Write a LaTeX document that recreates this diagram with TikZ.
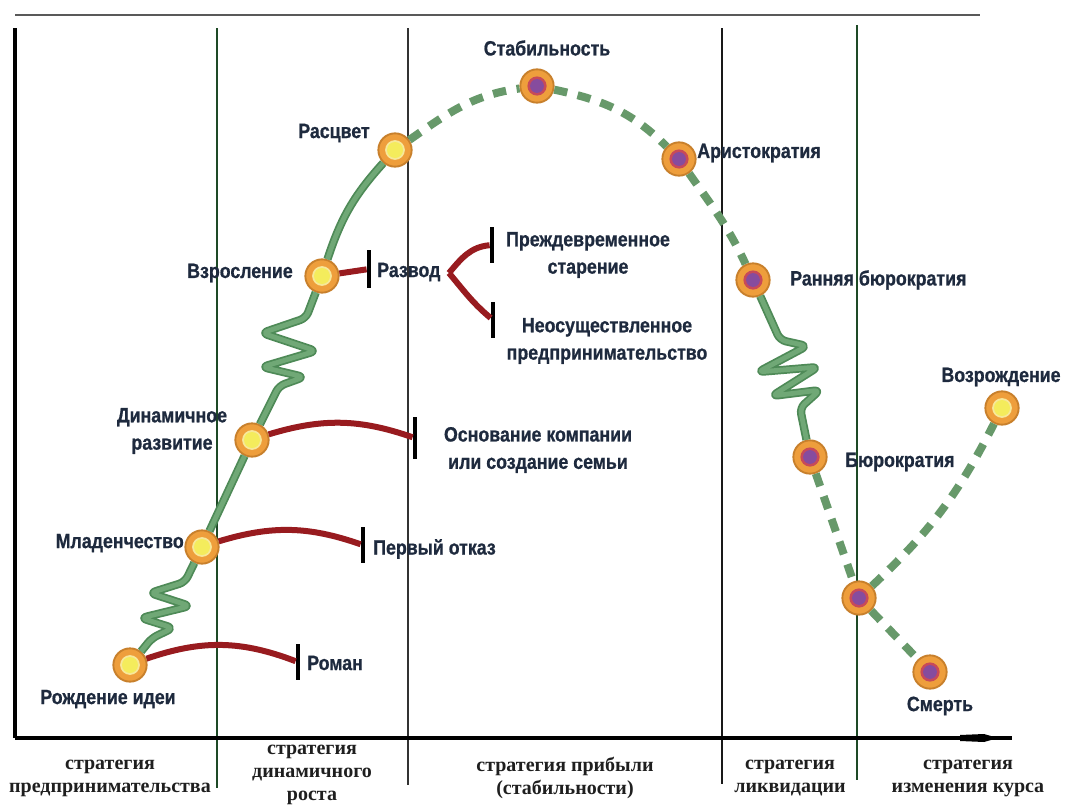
\documentclass[tikz,border=0pt]{standalone}
\usepackage{fontspec}
\setmainfont{Liberation Serif}
\newfontfamily\labf[FakeStretch=0.86,FakeBold=0.8]{Liberation Sans}
\usetikzlibrary{decorations.pathmorphing,arrows.meta}
\definecolor{grn}{HTML}{67996A}
\definecolor{grnd}{HTML}{4E8A57}
\definecolor{grnl}{HTML}{70A876}
\definecolor{redl}{HTML}{981B1F}
\definecolor{orf}{HTML}{EE9E3C}
\definecolor{ord}{HTML}{C8802C}
\definecolor{yel}{HTML}{F4EC5C}
\definecolor{yelr}{HTML}{F7E89A}
\definecolor{pur}{HTML}{864C9E}
\definecolor{pring}{HTML}{C84A58}
\definecolor{txt}{HTML}{1E2A3E}
\definecolor{dgreen}{HTML}{1E4A26}
\tikzset{
  ycirc/.style={circle, minimum size=25pt, inner sep=0pt, fill=orf, draw=ord, line width=1.4pt,
    path picture={\fill[yelr] (path picture bounding box.center) circle (7.4pt);
                  \fill[yel] (path picture bounding box.center) circle (6pt);}},
  pcirc/.style={circle, minimum size=25pt, inner sep=0pt, fill=orf, draw=ord, line width=1.4pt,
    path picture={\fill[pring] (path picture bounding box.center) circle (7.2pt);
                  \fill[pur] (path picture bounding box.center) circle (5.2pt);}},
  lab/.style={inner sep=0pt, text=txt, align=center, font=\labf\bfseries\fontsize{15.5}{20.5}\selectfont},
  blab/.style={inner sep=0pt, text=black!88, align=center, font=\bfseries\fontsize{15}{17.2}\selectfont},
  barnode/.style={rectangle, fill=black, inner sep=0pt, minimum width=3.2pt, minimum height=27pt},
  gdash/.style={draw=grn, line width=6pt, dash pattern=on 10pt off 8pt},
  gsolid/.style={draw=grnd, line width=1.3pt, double=grnl, double distance=3.6pt, line join=round, rounded corners=4.5pt},
  rline/.style={draw=redl, line width=4.5pt},
  divline/.style={line width=1.5pt},
}
\begin{document}
\begin{tikzpicture}[x=0.75pt,y=0.75pt]
\useasboundingbox (0,0) rectangle (1067,-810);
\fill[white] (0,0) rectangle (1067,-810);

% frame and dividers
\draw[line width=2pt, black!65] (15,-15) -- (980,-15);
\draw[line width=2.3pt, black] (15,-28) -- (15,-738);
\draw[divline, dgreen] (217,-28) -- (217,-788);
\draw[divline, black!80] (408,-28) -- (408,-785);
\draw[divline, black!90] (722,-28) -- (722,-784);
\draw[divline, dgreen] (857,-25) -- (857,-780);
\draw[line width=2.3pt, black] (15,-738) -- (1012,-738);
\fill[black] (960,-735) -- (984,-734) -- (998,-738) -- (984,-742) -- (960,-741) -- cycle;

% stage circles
\node[ycirc] (birth) at (130,-665) {};
\node[ycirc] (mlad) at (202,-547) {};
\node[ycirc] (din) at (252,-440) {};
\node[ycirc] (vzr) at (322,-276) {};
\node[ycirc] (rasc) at (395,-150) {};
\node[pcirc] (stab) at (537,-86) {};
\node[pcirc] (arist) at (679,-159) {};
\node[pcirc] (rbur) at (753,-280) {};
\node[pcirc] (bur) at (810,-457) {};
\node[pcirc] (u) at (859,-598) {};
\node[pcirc] (smert) at (930,-672) {};
\node[ycirc] (vozr) at (1002,-408) {};

% bars
\node[barnode] (b1) at (298,-662) {};
\node[barnode] (b2) at (363,-545) {};
\node[barnode, minimum height=31pt] (b3) at (415,-438) {};
\node[barnode, minimum height=28pt] (b4) at (369,-269) {};
\node[barnode] (f1) at (492,-245) {};
\node[barnode] (f2) at (493,-320) {};

% stage labels
\node[lab] (lbirth) at (108,-699) {Рождение идеи};
\node[lab, anchor=east] (lmlad) at (184,-543) {Младенчество};
\node[lab] (ldin) at (172,-431) {Динамичное\\развитие};
\node[lab] (lvzr) at (240,-273) {Взросление};
\node[lab] (lrasc) at (334,-133) {Расцвет};
\node[lab] (lstab) at (547,-48) {Стабильность};
\node[lab, anchor=west] (larist) at (697,-153) {Аристократия};
\node[lab, anchor=west] (lrbur) at (790,-280) {Ранняя бюрократия};
\node[lab, anchor=west] (lbur) at (845,-462) {Бюрократия};
\node[lab] (lvozr) at (1001,-377) {Возрождение};
\node[lab] (lsmert) at (940,-706) {Смерть};

% trap labels
\node[lab, anchor=west] (lroman) at (307,-663) {Роман};
\node[lab, anchor=west] (lotkaz) at (373,-549) {Первый отказ};
\node[lab] (losnov) at (538,-450) {Основание компании\\или создание семьи};
\node[lab, anchor=west] (razvod) at (377,-272) {Развод};
\node[lab] (lstar) at (588,-255) {Преждевременное\\старение};
\node[lab] (lneos) at (607,-341) {Неосуществленное\\предпринимательство};
\coordinate (fork) at (449,-273);

% strategy labels
\node[blab] (s1) at (110,-778) {стратегия\\предпринимательства};
\node[blab] (s2) at (312,-775) {стратегия\\динамичного\\роста};
\node[blab] (s3) at (565,-778) {стратегия прибыли\\(стабильности)};
\node[blab] (s4) at (790,-778) {стратегия\\ликвидации};
\node[blab] (s5) at (968,-778) {стратегия\\изменения курса};

% red trap lines
\draw[rline] (birth) to[bend left=20] (b1);
\draw[rline] (mlad) to[bend left=18] (b2);
\draw[rline] (din) to[bend left=18] (b3);
\draw[rline] (vzr) -- (b4);
\draw[rline] (fork) to[out=50,in=185] (f1);
\draw[rline] (fork) to[out=-50,in=140] (f2);

% life curve
\draw[gsolid] (mlad) -- (185,-582) -- (150,-593) -- (190,-606) -- (141,-618) -- (173,-628) -- (152,-638) -- (birth);
\draw[gsolid] (mlad) -- (din);
\draw[gsolid] (vzr) -- (306,-318) -- (262,-333) -- (316,-351) -- (262,-367) -- (304,-377) -- (279,-386) -- (din);
\draw[gsolid] (vzr) to[bend left=12] (rasc);
\draw[gdash] (rasc) to[out=35,in=188] (stab);
\draw[gdash] (stab) to[out=-12,in=135] (arist);
\draw[gdash] (arist) to[out=-55,in=115] (rbur);
\draw[gsolid] (rbur) -- (780,-340) -- (807,-346) -- (758,-372) -- (818,-367) -- (772,-396) -- (820,-390) -- (800,-408) -- (bur);
\draw[gdash] (bur) -- (u);
\draw[gdash] (u) -- (smert);
\draw[gdash] (u) to[bend right=10] (vozr);
\end{tikzpicture}
\end{document}
